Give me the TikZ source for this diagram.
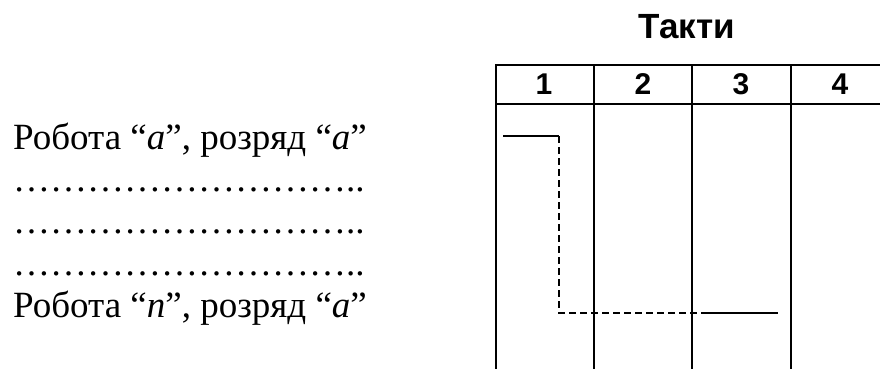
\documentclass[tikz,border=0pt]{standalone}
\usepackage{fontspec}
\setmainfont{Liberation Serif}
\newfontfamily\tablefont{Liberation Sans}
\usetikzlibrary{positioning}

\begin{document}
\begin{tikzpicture}[x=1pt,y=-1pt,
  grid/.style={line width=2.7pt,line cap=rect},
  signal/.style={line width=1.2pt},
  txt/.style={anchor=base west,inner sep=0pt,font=\fontsize{37}{44}\selectfont},
  num/.style={inner sep=0pt,font=\tablefont\bfseries\fontsize{30}{34}\selectfont}]
\useasboundingbox (0,0) rectangle (880,369);
% jobs and digits
\node[txt] (job1) at (13,149) {Робота “\textit{a}”, розряд “\textit{a}”};
\node[txt] (dots1) at (13,191) {………………………..};
\node[txt] (dots2) at (13,233) {………………………..};
\node[txt] (dots3) at (13,275) {………………………..};
\node[txt] (jobn) at (13,317) {Робота “\textit{n}”, розряд “\textit{a}”};
% clock table
\node[anchor=base,inner sep=0pt,font=\tablefont\bfseries\fontsize{35}{40}\selectfont] (title) at (687,39) {Такти};
\draw[grid] (496,65) -- (895,65);
\draw[grid] (496,104) -- (895,104);
\draw[grid] (496,65) -- (496,375);
\draw[grid] (594,65) -- (594,375);
\draw[grid] (692,65) -- (692,375);
\draw[grid] (791,65) -- (791,375);
\node[num] (t1) at (544,84.5) {1};
\node[num] (t2) at (643,84.5) {2};
\node[num] (t3) at (741,84.5) {3};
\node[num] (t4) at (840,84.5) {4};
% timing line
\coordinate (s0) at (503,136);
\coordinate (s1) at (559,136);
\coordinate (s2) at (559,313);
\coordinate (s3) at (708,313);
\coordinate (s4) at (778,313);
\draw[signal] (s0) -- (s1);
\draw[signal,dash pattern=on 7pt off 4pt] (s1) -- (s2) -- (s3);
\draw[signal] (s3) -- (s4);
\end{tikzpicture}
\end{document}
